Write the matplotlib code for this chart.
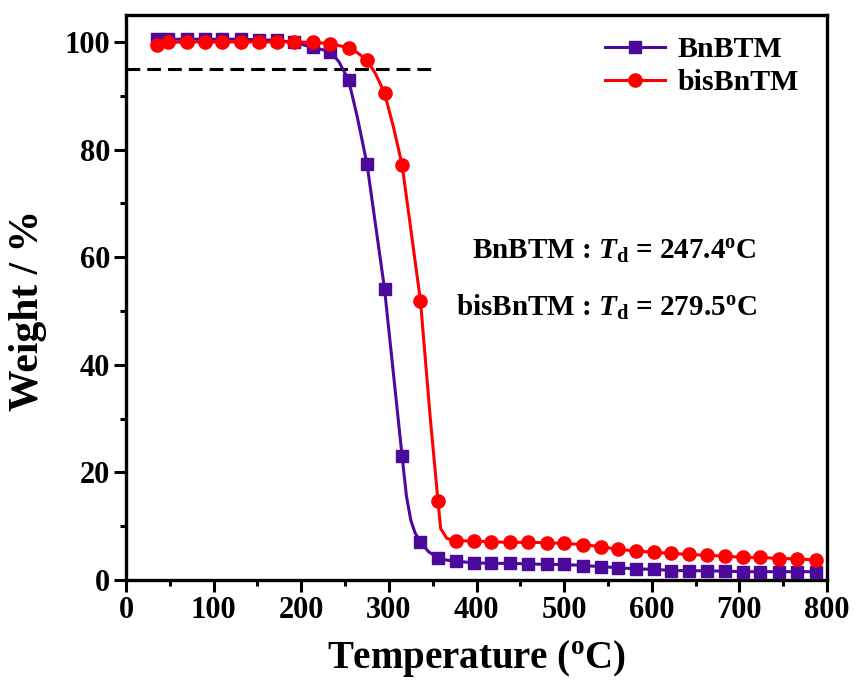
import numpy as np
import matplotlib
matplotlib.use("Agg")
import matplotlib.pyplot as plt

# ---- data ----
temp_marks = [35, 48, 69, 90, 110, 131, 152, 172, 192, 213, 233, 254, 275, 295,
              315, 336, 356, 376, 397, 417, 438, 459, 480, 500, 521, 542, 562,
              582, 603, 622, 643, 663, 684, 704, 724, 745, 766, 787]

bnbtm_wt = [100.5, 100.5, 100.5, 100.5, 100.5, 100.5, 100.4, 100.3, 99.9, 99.0,
            98.2, 92.9, 77.3, 54.1, 23.1, 7.1, 4.1, 3.5, 3.2, 3.1, 3.1, 3.0,
            2.9, 2.9, 2.7, 2.5, 2.3, 2.05, 2.0, 1.75, 1.75, 1.7, 1.65, 1.55,
            1.55, 1.55, 1.55, 1.55]

bisbntm_wt = [99.5, 99.9, 100.0, 100.0, 100.0, 100.0, 100.0, 100.0, 100.0, 99.9,
              99.7, 98.9, 96.6, 90.5, 77.2, 51.9, 14.7, 7.3, 7.25, 7.1, 7.0, 7.0,
              6.95, 6.8, 6.6, 6.2, 5.7, 5.4, 5.15, 4.95, 4.75, 4.6, 4.45, 4.2,
              4.2, 4.0, 3.95, 3.7]

# extra points on the smooth curves between markers
bnbtm_extra_t = [243, 264, 320, 325, 330, 345, 366]
bnbtm_extra_w = [96.3, 86.0, 15.6, 11.1, 8.7, 5.3, 3.7]
bisbntm_extra_t = [264, 285, 305, 324, 347, 359, 366]
bisbntm_extra_w = [98.0, 94.0, 84.3, 66.4, 30.5, 9.6, 7.75]

td_level = 95
td_line_end = 355
labels = ["BnBTM", "bisBnTM"]
td_text = ["BnBTM : $\\mathit{T}_{\\mathrm{d}}$ = 247.4$^{\\mathrm{o}}$C",
           "bisBnTM : $\\mathit{T}_{\\mathrm{d}}$ = 279.5$^{\\mathrm{o}}$C"]

purple = "#4B0A9C"
red = "#FF0000"

plt.rcParams["font.family"] = "Liberation Serif"
plt.rcParams["font.weight"] = "bold"
plt.rcParams["mathtext.fontset"] = "custom"
plt.rcParams["mathtext.rm"] = "Liberation Serif:bold"
plt.rcParams["mathtext.it"] = "Liberation Serif:italic:bold"
plt.rcParams["mathtext.bf"] = "Liberation Serif:bold"


def curve(t_m, w_m, t_x, w_x):
    t = np.concatenate([t_m, t_x])
    w = np.concatenate([w_m, w_x])
    order = np.argsort(t)
    return t[order], w[order]


fig = plt.figure(figsize=(8.58, 6.92), dpi=100)
ax = fig.add_axes([0.1469, 0.1618, 0.8170, 0.8165])

t1, w1 = curve(temp_marks, bnbtm_wt, bnbtm_extra_t, bnbtm_extra_w)
t2, w2 = curve(temp_marks, bisbntm_wt, bisbntm_extra_t, bisbntm_extra_w)

ax.plot(t1, w1, color=purple, lw=2.2, zorder=3)
ax.plot(temp_marks, bnbtm_wt, ls="none", marker="s", ms=8.5, color=purple, zorder=3)
ax.plot(t2, w2, color=red, lw=2.2, zorder=4)
ax.plot(temp_marks, bisbntm_wt, ls="none", marker="o", ms=9.5, color=red, zorder=4)

# legend proxies
h1, = ax.plot([], [], color=purple, lw=2.2, marker="s", ms=8.5, label=labels[0])
h2, = ax.plot([], [], color=red, lw=2.2, marker="o", ms=9.5, label=labels[1])

ax.plot([0, td_line_end], [td_level, td_level], color="black", lw=2.2,
        dashes=(4.5, 2.3), zorder=2)

ax.text(720, 61.0, td_text[0], ha="right", va="center", fontsize=21, fontweight="bold")
ax.text(720, 50.6, td_text[1], ha="right", va="center", fontsize=21, fontweight="bold")

ax.legend(handles=[h1, h2], loc="upper left", bbox_to_anchor=(0.683, 0.962),
          frameon=False, fontsize=21.5, handlelength=2.0, handletextpad=0.45,
          borderaxespad=0, borderpad=0, labelspacing=0.2, numpoints=1)

ax.set_xlim(0, 800)
ax.set_ylim(0, 105)
ax.set_xticks(np.arange(0, 801, 100))
ax.set_xticks(np.arange(50, 800, 100), minor=True)
ax.set_yticks(np.arange(0, 101, 20))
ax.set_yticks(np.arange(10, 100, 20), minor=True)

for s in ax.spines.values():
    s.set_linewidth(2.4)
ax.tick_params(which="major", direction="out", length=8.5, width=2.2,
               labelsize=22, pad=3, top=False, right=False)
ax.tick_params(which="minor", direction="out", length=4.5, width=2.2,
               top=False, right=False)
for lab in ax.get_xticklabels() + ax.get_yticklabels():
    lab.set_fontweight("bold")

ax.set_xlabel("Temperature ($^{\\mathrm{o}}$C)", fontsize=28, fontweight="bold", labelpad=9)
ax.set_ylabel("Weight / %", fontsize=30, fontweight="bold")
ax.yaxis.set_label_coords(-0.113, 0.478)

fig.savefig("out.png", dpi=100)
